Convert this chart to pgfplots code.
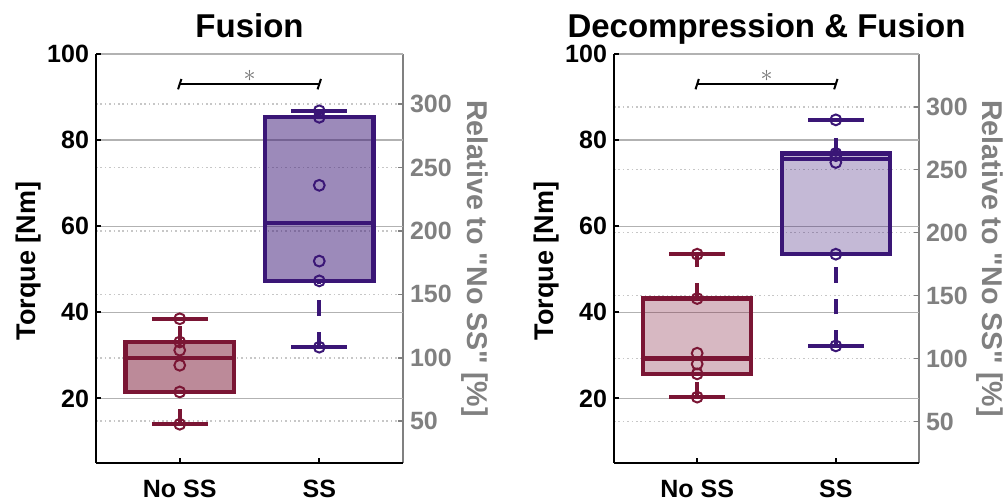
\documentclass[border=0pt]{standalone}
\usepackage{pgfplots}
\pgfplotsset{compat=1.18}
\usepackage{fontspec}
\setmainfont{Liberation Sans}
\definecolor{cNo}{RGB}{122,21,52}
\definecolor{cSS}{RGB}{58,22,118}
\definecolor{axgray}{RGB}{128,128,128}
\newcommand{\fs}[1]{\fontsize{#1}{#1}\selectfont\bfseries}

\pgfplotsset{
  common/.style={
    scale only axis, width=153.5pt, height=204.5pt,
    xmin=0.4, xmax=2.6, clip=false,
    tick align=inside, major tick length=2.5pt,
    /pgf/number format/assume math mode=true,
    ticklabel style={font=\fs{12.5}},
  },
  % right (relative) axis: gray spine, dotted grid
  relaxis/.style={
    common, axis y line*=right, axis x line*=top, xtick=\empty,
    axis line style={axgray, line width=0.8pt},
    ytick={50,100,...,300}, ymajorgrids,
    major grid style={black!22, line width=0.8pt, dash pattern=on 0.8pt off 1.4pt},
    ytick style={axgray, line width=0.8pt},
    yticklabel style={text=axgray},
  },
  % main torque axis
  mainaxis/.style={
    common, axis x line*=bottom, axis y line*=left,
    axis line style={black, line width=1pt},
    ymin=5, ymax=100, ytick={20,40,...,100}, ymajorgrids,
    major grid style={black!30, line width=0.7pt},
    xtick={1,2}, xticklabels={No SS,SS},
    tick style={black, line width=1pt},
    xticklabel style={yshift=-5pt},
  },
  boxline/.style={line width=2.2pt, line join=miter},
  whisk/.style={line width=2.2pt, dash pattern=on 7.8pt off 8pt},
  pts/.style={only marks, mark=o, mark size=2.7pt, mark options={line width=1pt}},
}

\begin{document}
\begin{tikzpicture}
\path[use as bounding box] (0,0) rectangle (503pt,251pt);

% ---------------- Fusion ----------------
\begin{axis}[relaxis, at={(48pt,19.5pt)}, anchor=south west,
  ymin=16.98, ymax=339.56]
\end{axis}

\begin{axis}[mainaxis, at={(48pt,19.5pt)}, anchor=south west]
% No SS
\addplot[boxline, draw=cNo, fill=cNo, fill opacity=0.5] coordinates {(0.61,21.5) (1.39,21.5) (1.39,33.1) (0.61,33.1)} -- cycle;
\addplot[boxline, cNo] coordinates {(0.61,29.45) (1.39,29.45)};
\addplot[whisk, cNo] coordinates {(1,14.0) (1,21.5)};
\addplot[whisk, cNo] coordinates {(1,33.1) (1,38.5)};
\addplot[boxline, cNo] coordinates {(0.8,14.0) (1.2,14.0)};
\addplot[boxline, cNo] coordinates {(0.8,38.5) (1.2,38.5)};
\addplot[pts, cNo] coordinates {(1,14.0) (1,21.5) (1,27.7) (1,31.2) (1,33.1) (1,38.5)};
% SS
\addplot[boxline, draw=cSS, fill=cSS, fill opacity=0.5] coordinates {(1.61,47.3) (2.39,47.3) (2.39,85.3) (1.61,85.3)} -- cycle;
\addplot[boxline, cSS] coordinates {(1.61,60.7) (2.39,60.7)};
\addplot[whisk, cSS] coordinates {(2,31.9) (2,47.3)};
\addplot[whisk, cSS] coordinates {(2,85.3) (2,86.8)};
\addplot[boxline, cSS] coordinates {(1.8,31.9) (2.2,31.9)};
\addplot[boxline, cSS] coordinates {(1.8,86.8) (2.2,86.8)};
\addplot[pts, cSS] coordinates {(2,31.9) (2,47.3) (2,51.9) (2,69.5) (2,85.3) (2,86.8)};
% significance bracket
\addplot[black, line width=1pt] coordinates {(1,93) (2,93)};
\addplot[black, line width=1pt] coordinates {(0.988,91.8) (1.012,94.2)};
\addplot[black, line width=1pt] coordinates {(1.988,91.8) (2.012,94.2)};
\node[text=black!55, font=\fontsize{12}{12}\selectfont] at (axis cs:1.5,95.0) {$\ast$};
\node[anchor=base, font=\fs{16.5}] at (rel axis cs:0.5,1) [yshift=8.5pt] {Fusion};
\end{axis}

% ---------------- Decompression & Fusion ----------------
\begin{axis}[relaxis, at={(307pt,19.5pt)}, anchor=south west, width=152.5pt,
  ymin=17.09, ymax=341.88]
\end{axis}

\begin{axis}[mainaxis, at={(307pt,19.5pt)}, anchor=south west, width=152.5pt]
% No SS
\addplot[boxline, draw=cNo, fill=cNo, fill opacity=0.3] coordinates {(0.61,25.7) (1.39,25.7) (1.39,43.2) (0.61,43.2)} -- cycle;
\addplot[boxline, cNo] coordinates {(0.61,29.25) (1.39,29.25)};
\addplot[whisk, cNo] coordinates {(1,20.3) (1,25.7)};
\addplot[whisk, cNo] coordinates {(1,43.2) (1,53.5)};
\addplot[boxline, cNo] coordinates {(0.8,20.3) (1.2,20.3)};
\addplot[boxline, cNo] coordinates {(0.8,53.5) (1.2,53.5)};
\addplot[pts, cNo] coordinates {(1,20.3) (1,25.7) (1,28.0) (1,30.5) (1,43.2) (1,53.5)};
% SS
\addplot[boxline, draw=cSS, fill=cSS, fill opacity=0.3] coordinates {(1.61,53.5) (2.39,53.5) (2.39,76.9) (1.61,76.9)} -- cycle;
\addplot[boxline, cSS] coordinates {(1.61,75.6) (2.39,75.6)};
\addplot[whisk, cSS] coordinates {(2,32.2) (2,53.5)};
\addplot[whisk, cSS] coordinates {(2,76.9) (2,84.7)};
\addplot[boxline, cSS] coordinates {(1.8,32.2) (2.2,32.2)};
\addplot[boxline, cSS] coordinates {(1.8,84.7) (2.2,84.7)};
\addplot[pts, cSS] coordinates {(2,32.2) (2,53.5) (2,74.8) (2,76.4) (2,76.9) (2,84.7)};
% significance bracket
\addplot[black, line width=1pt] coordinates {(1,93) (2,93)};
\addplot[black, line width=1pt] coordinates {(0.988,91.8) (1.012,94.2)};
\addplot[black, line width=1pt] coordinates {(1.988,91.8) (2.012,94.2)};
\node[text=black!55, font=\fontsize{12}{12}\selectfont] at (axis cs:1.5,95.0) {$\ast$};
\node[anchor=base, font=\fs{16.5}] at (rel axis cs:0.5,1) [yshift=8.5pt] {Decompression \& Fusion};
\end{axis}

% axis labels (page coordinates, 0.5pt per reference pixel)
\node[rotate=90, font=\fs{13.5}] at (14.25pt,120.5pt) {Torque [Nm]};
\node[rotate=90, font=\fs{13.5}] at (273.25pt,120.5pt) {Torque [Nm]};
\node[rotate=-90, font=\fs{14.3}, text=axgray] at (237.5pt,121.75pt) {Relative to \textquotedbl No SS\textquotedbl{} [\%]};
\node[rotate=-90, font=\fs{14.3}, text=axgray] at (495pt,121.75pt) {Relative to \textquotedbl No SS\textquotedbl{} [\%]};
\end{tikzpicture}
\end{document}
